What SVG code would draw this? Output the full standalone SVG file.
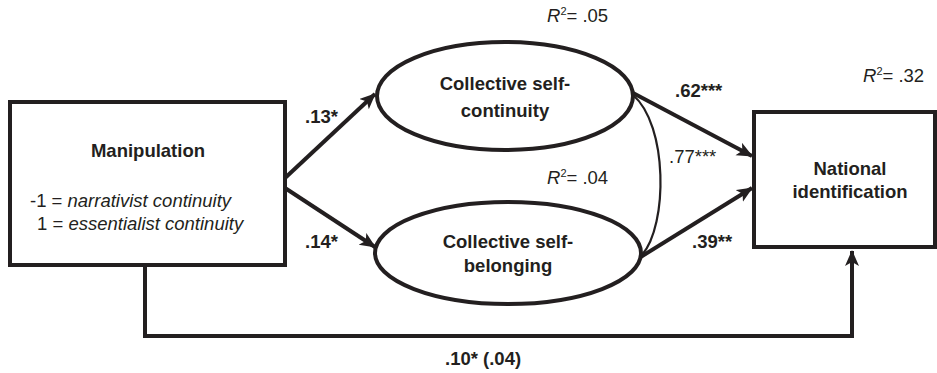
<svg xmlns="http://www.w3.org/2000/svg" width="937" height="373" viewBox="0 0 937 373">
<style>
.box{fill:#fff;stroke:#231f20;stroke-width:4}
.ell{fill:#fff;stroke:#231f20;stroke-width:4}
.arr{fill:none;stroke:#231f20;stroke-width:4}
.cor{fill:none;stroke:#231f20;stroke-width:2.2}
text{font-family:"Liberation Sans",Arial,sans-serif;fill:#231f20;font-size:18.5px}
.b{font-weight:bold}
.c{text-anchor:middle}
.r{font-size:17px}
</style>
<defs>
<marker id="ah" markerUnits="userSpaceOnUse" markerWidth="18" markerHeight="16" refX="15" refY="7" orient="auto">
<path d="M0,0 L16,7 L0,14 L4,7 Z" fill="#231f20"/>
</marker>
</defs>
<g id="connectors">
<line class="arr" x1="285" y1="178" x2="375" y2="94" marker-end="url(#ah)"/>
<line class="arr" x1="285" y1="188" x2="375" y2="247" marker-end="url(#ah)"/>
<line class="arr" x1="633" y1="93" x2="752" y2="156" marker-end="url(#ah)"/>
<line class="arr" x1="639" y1="258" x2="752" y2="188" marker-end="url(#ah)"/>
<path class="arr" d="M145,265 V336 H852 V251" marker-end="url(#ah)"/>
<path class="cor" d="M633,95 C668,125 668,225 642,255"/>
</g>
<g id="manipulation">
<rect class="box" x="10" y="102" width="275" height="163"/>
<text class="b c" x="148" y="157">Manipulation</text>
<text x="30" y="207">-1 = <tspan font-style="italic">narrativist continuity</tspan></text>
<text x="37" y="230">1 = <tspan font-style="italic">essentialist continuity</tspan></text>
</g>
<g id="continuity">
<ellipse class="ell" cx="505" cy="96" rx="128" ry="54"/>
<text class="b c" x="505" y="90">Collective self-</text>
<text class="b c" x="505" y="117">continuity</text>
</g>
<g id="belonging">
<ellipse class="ell" cx="508" cy="253" rx="133" ry="51"/>
<text class="b c" x="508" y="248">Collective self-</text>
<text class="b c" x="508" y="272">belonging</text>
</g>
<g id="national">
<rect class="box" x="754" y="112" width="181" height="135"/>
<text class="b c" x="850" y="175">National</text>
<text class="b c" x="850" y="198">identification</text>
</g>
<g id="labels">
<text class="b" x="305" y="123">.13*</text>
<text class="b" x="305" y="248">.14*</text>
<text class="b" x="675" y="97">.62***</text>
<text x="669" y="163">.77***</text>
<text class="b" x="692" y="248">.39**</text>
<text class="b" x="445" y="365">.10* (.04)</text>
<text x="547" y="22"><tspan font-style="italic">R</tspan><tspan font-size="11" dy="-7">2</tspan><tspan dy="7">= .05</tspan></text>
<text x="547" y="184"><tspan font-style="italic">R</tspan><tspan font-size="11" dy="-7">2</tspan><tspan dy="7">= .04</tspan></text>
<text x="863" y="82"><tspan font-style="italic">R</tspan><tspan font-size="11" dy="-7">2</tspan><tspan dy="7">= .32</tspan></text>
</g>
</svg>
